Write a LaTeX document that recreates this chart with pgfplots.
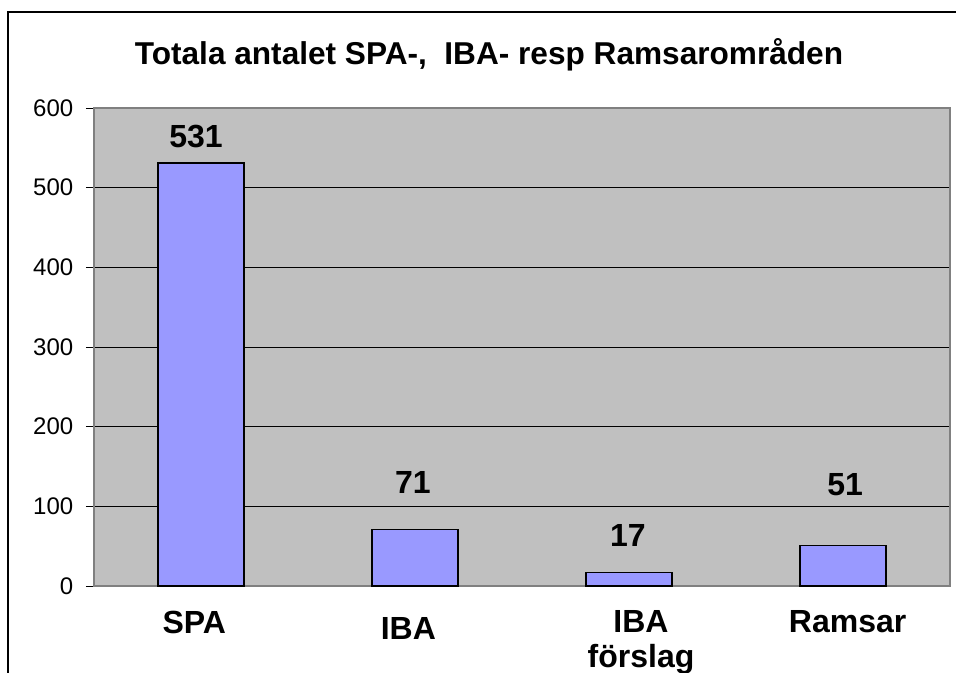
\documentclass[border=0pt]{standalone}
\usepackage{fontspec}
\setmainfont{Liberation Sans}
\usepackage{pgfplots}
\pgfplotsset{compat=1.18}
\definecolor{plotgray}{HTML}{C0C0C0}
\definecolor{barblue}{HTML}{9999FF}
\definecolor{framegray}{HTML}{808080}

\begin{document}
\begin{tikzpicture}[x=0.75pt,y=-0.75pt]
\useasboundingbox (0,0) rectangle (956,673);
\clip (0,0) rectangle (956,673);
% outer chart frame (cut off at right and bottom)
\draw[line width=1.5pt] (8,800) -- (8,12) -- (1000,12);
\node[anchor=base, font=\fontsize{23.7}{28}\selectfont\bfseries]
  at (489,65) {Totala antalet SPA-,\ \ IBA- resp Ramsarområden};

\begin{axis}[
    at={(70.5pt,-439.5pt)}, anchor=south west,
    width=642pt, height=358.5pt, scale only axis,
    xmin=-0.5, xmax=3.5,
    ymin=0, ymax=600,
    xtick={0,1,2,3},
    xticklabels={\hspace*{-10pt}SPA, \raisebox{-5pt}[\height][\depth]{\hspace*{-10pt}IBA}, \hspace*{18pt}IBA\\[-1pt]\hspace*{18pt}förslag, \hspace*{7pt}Ramsar},
    ytick={0,100,200,300,400,500,600},
    ymajorgrids,
    major grid style={black, line width=0.75pt},
    axis background/.style={fill=plotgray},
    axis line style={framegray, line width=1.5pt},
    xtick style={draw=none},
    ytick style={black, line width=0.75pt},
    tick align=outside,
    major tick length=6pt,
    ytick pos=left,
    /pgf/number format/assume math mode=true,
    yticklabel style={font=\fontsize{18}{21}\selectfont, anchor=east, xshift=-6pt},
    xticklabel style={font=\fontsize{24}{27}\selectfont\bfseries, align=center, anchor=north, yshift=-9pt},
]
\addplot[ybar, bar width=64.5pt, fill=barblue, draw=black, line width=1.2pt]
  coordinates {(0,531) (1,71) (2,17) (3,51)};

\node[anchor=base, font=\fontsize{24}{27}\selectfont\bfseries] at (axis cs:-0.023,551) {531};
\node[anchor=base, font=\fontsize{24}{27}\selectfont\bfseries] at (axis cs:0.99,116.7) {71};
\node[anchor=base, font=\fontsize{24}{27}\selectfont\bfseries] at (axis cs:1.995,49) {17};
\node[anchor=base, font=\fontsize{24}{27}\selectfont\bfseries] at (axis cs:3.01,114.2) {51};
\end{axis}
\end{tikzpicture}
\end{document}
